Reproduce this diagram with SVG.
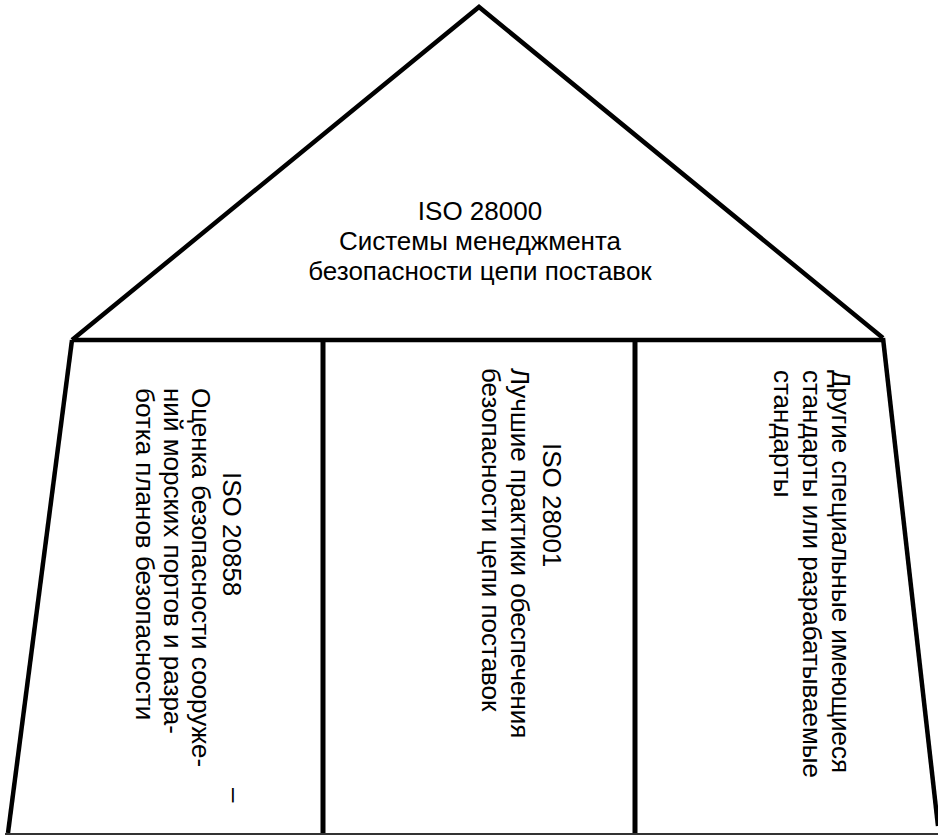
<svg xmlns="http://www.w3.org/2000/svg" width="938" height="837" viewBox="0 0 938 837">
<style>
.ln{stroke:#000;stroke-width:4.5;fill:none;stroke-linejoin:miter}
.t{font-family:"Liberation Sans",Arial,sans-serif;font-size:26px;fill:#000}
.c{text-anchor:middle}
</style>
<rect width="938" height="837" fill="#fff"/>
<g id="connectors">
<polyline class="ln" points="72,340 479,7 883,338"/>
<line class="ln" x1="72" y1="340" x2="883" y2="340"/>
<line class="ln" x1="72" y1="340" x2="8" y2="833"/>
<line class="ln" x1="883" y1="338" x2="938" y2="826"/>
<line class="ln" x1="323" y1="340" x2="323" y2="834" style="stroke-width:5"/>
<line class="ln" x1="635" y1="340" x2="635" y2="834" style="stroke-width:5"/>
<line x1="5" y1="834" x2="938" y2="834" stroke="#333" stroke-width="2"/>
</g>
<g id="roof">
<text class="t c" x="480" y="220">ISO 28000</text>
<text class="t c" x="480" y="250">Системы менеджмента</text>
<text class="t c" x="480" y="280">безопасности цепи поставок</text>
</g>
<g id="col1">
<text class="t" transform="translate(223,472) rotate(90)">ISO 20858</text>
<text class="t" transform="translate(226,788) rotate(90)">–</text>
<text class="t" transform="translate(192,388) rotate(90)">Оценка безопасности сооруже-</text>
<text class="t" transform="translate(164,388) rotate(90)">ний морских портов и разра-</text>
<text class="t" transform="translate(136,388) rotate(90)">ботка планов безопасности</text>
</g>
<g id="col2">
<text class="t" transform="translate(543,443) rotate(90)">ISO 28001</text>
<text class="t" transform="translate(511,368) rotate(90)">Лучшие практики обеспечения</text>
<text class="t" transform="translate(482,368) rotate(90)">безопасности цепи поставок</text>
</g>
<g id="col3">
<text class="t" transform="translate(832,370) rotate(90)">Другие специальные имеющиеся</text>
<text class="t" transform="translate(803,370) rotate(90)">стандарты или разрабатываемые</text>
<text class="t" transform="translate(774,370) rotate(90)">стандарты</text>
</g>
</svg>
